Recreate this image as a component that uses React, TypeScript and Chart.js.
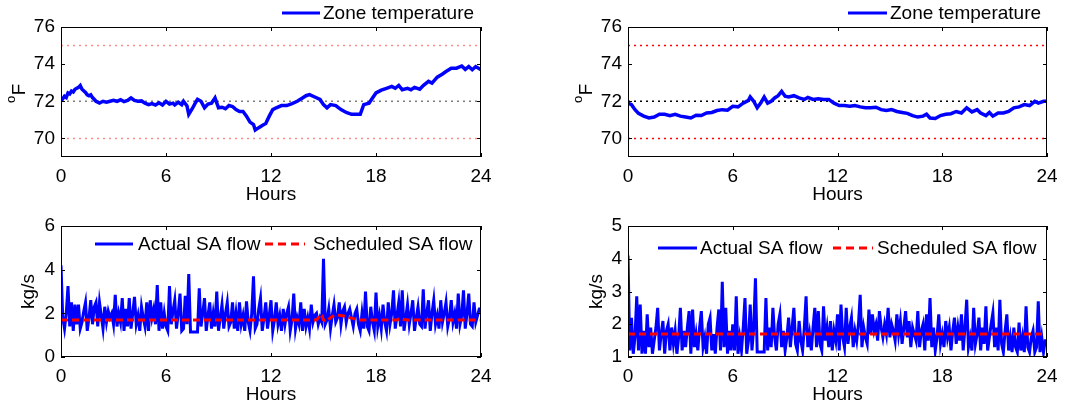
import { useEffect, useRef } from "react";
import { Chart, registerables } from "chart.js";

Chart.register(...registerables);

const FONT = '"Liberation Sans", Arial, Helvetica, sans-serif';
const FONT_SIZE = 19;
const BLUE = "#0000ff";
const RED = "#ff0000";

// Axis ticks
const hourTicks = [0, 6, 12, 18, 24];
const tempTicks = [70, 72, 74, 76];
const flowTicksLeft = [0, 2, 4, 6];
const flowTicksRight = [1, 2, 3, 4, 5];

// Comfort band and setpoint, °F
const comfortBounds = [70, 75];
const setpoint = 72;

// Zone temperature, [hour, °F]
const zoneTempLeft = [
  [0, 72.0], [0.2, 72.27], [0.3, 72.2], [0.4, 72.45], [0.5, 72.4], [0.6, 72.55], [0.7, 72.5], [0.8, 72.65],
  [1.0, 72.75], [1.1, 72.85], [1.2, 72.65], [1.4, 72.48], [1.5, 72.35], [1.6, 72.3], [1.7, 72.35], [1.8, 72.2],
  [2.0, 72.0], [2.2, 71.9], [2.4, 72.0], [2.6, 71.95], [2.8, 72.0], [3.0, 72.05], [3.2, 72.0], [3.4, 72.08],
  [3.6, 71.98], [3.8, 72.05], [4.0, 72.18], [4.2, 72.05], [4.4, 72.0], [4.6, 72.02], [4.8, 71.9], [5.0, 71.82],
  [5.2, 71.88], [5.4, 71.8], [5.6, 71.92], [5.8, 71.8], [6.0, 72.0], [6.2, 71.85], [6.4, 71.9], [6.5, 71.8],
  [6.7, 71.95], [6.9, 71.82], [7.0, 72.0], [7.2, 71.75], [7.3, 71.3], [7.5, 71.6], [7.7, 71.95], [7.8, 72.1],
  [8.0, 72.0], [8.2, 71.65], [8.4, 71.85], [8.6, 71.9], [8.8, 72.18], [9.0, 71.65], [9.2, 71.68], [9.4, 71.6],
  [9.6, 71.77], [9.8, 71.72], [10.0, 71.55], [10.2, 71.45], [10.4, 71.45], [10.6, 71.2], [10.8, 70.88],
  [11.0, 70.75], [11.1, 70.45], [11.3, 70.58], [11.5, 70.7], [11.7, 70.8], [11.9, 71.2], [12.1, 71.55],
  [12.3, 71.65], [12.6, 71.77], [12.9, 71.77], [13.2, 71.88], [13.5, 72.0], [13.8, 72.18], [14.0, 72.3],
  [14.2, 72.36], [14.5, 72.23], [14.8, 72.1], [15.0, 71.82], [15.2, 71.65], [15.4, 71.82], [15.7, 71.77],
  [16.0, 71.55], [16.3, 71.4], [16.6, 71.3], [16.9, 71.3], [17.1, 71.3], [17.3, 71.82], [17.6, 71.9],
  [17.8, 72.18], [18.0, 72.45], [18.3, 72.6], [18.6, 72.7], [18.9, 72.8], [19.1, 72.7], [19.3, 72.85],
  [19.5, 72.62], [19.8, 72.7], [20.0, 72.62], [20.2, 72.75], [20.5, 72.65], [20.7, 72.85], [21.0, 73.07],
  [21.2, 72.98], [21.5, 73.3], [21.8, 73.47], [22.0, 73.6], [22.3, 73.78], [22.6, 73.78], [22.9, 73.9],
  [23.1, 73.72], [23.3, 73.87], [23.5, 73.7], [23.7, 73.87], [24.0, 73.7],
];

const zoneTempRight = [
  [0, 71.9], [0.2, 71.82], [0.4, 71.55], [0.6, 71.35], [0.9, 71.2], [1.2, 71.1], [1.5, 71.15], [1.8, 71.3],
  [2.1, 71.3], [2.4, 71.23], [2.7, 71.3], [3.0, 71.2], [3.3, 71.15], [3.6, 71.1], [3.9, 71.25], [4.2, 71.23],
  [4.5, 71.37], [4.8, 71.4], [5.1, 71.5], [5.4, 71.55], [5.7, 71.52], [6.0, 71.73], [6.3, 71.7], [6.6, 71.9],
  [6.9, 72.05], [7.0, 72.23], [7.2, 72.0], [7.4, 71.65], [7.6, 71.9], [7.8, 72.23], [8.0, 71.9], [8.2, 72.0],
  [8.4, 72.18], [8.6, 72.3], [8.8, 72.53], [9.0, 72.27], [9.2, 72.23], [9.5, 72.3], [9.8, 72.18], [10.1, 72.1],
  [10.3, 72.21], [10.6, 72.1], [10.9, 72.14], [11.2, 72.1], [11.5, 72.1], [11.8, 71.9], [12.1, 71.77],
  [12.4, 71.77], [12.7, 71.73], [13.0, 71.77], [13.3, 71.7], [13.6, 71.65], [13.9, 71.65], [14.2, 71.68],
  [14.5, 71.55], [14.8, 71.5], [15.1, 71.55], [15.4, 71.45], [15.7, 71.4], [16.0, 71.35], [16.3, 71.23],
  [16.6, 71.15], [16.9, 71.2], [17.1, 71.3], [17.3, 71.1], [17.6, 71.07], [17.9, 71.23], [18.2, 71.3],
  [18.5, 71.33], [18.8, 71.45], [19.1, 71.37], [19.4, 71.65], [19.7, 71.43], [20.0, 71.55], [20.2, 71.37],
  [20.5, 71.23], [20.7, 71.4], [20.9, 71.2], [21.2, 71.37], [21.5, 71.37], [21.8, 71.45], [22.1, 71.65],
  [22.4, 71.7], [22.7, 71.82], [23.0, 71.77], [23.3, 72.0], [23.5, 71.9], [23.8, 72.0], [24.0, 72.0],
];

// Supply-air flow sampled every 0.1 h, kg/s (one row per hour)
const sampleStep = 0.1;

const actualFlowLeft = [
  4.2, 1.8, 1.3, 2.0, 3.25, 1.4, 2.5, 1.2, 2.4, 1.5,
  2.4, 1.3, 1.6, 2.1, 2.5, 1.2, 1.8, 2.6, 1.5, 2.3,
  2.5, 1.4, 2.5, 1.9, 1.3, 2.3, 1.6, 2.1, 1.8, 2.0,
  1.5, 2.85, 1.4, 2.0, 1.6, 2.7, 1.2, 2.2, 1.4, 2.7,
  1.3, 2.0, 2.75, 1.5, 1.9, 1.2, 2.3, 1.8, 1.4, 2.5,
  1.2, 2.6, 1.8, 2.2, 1.5, 3.3, 1.2, 2.5, 1.3, 2.0,
  1.4, 1.2, 3.25, 1.5, 2.1, 2.6, 1.3, 2.0, 2.9, 1.2,
  1.3, 2.8, 1.5, 3.8, 1.15, 1.15, 1.15, 1.15, 1.15, 3.15,
  1.4, 2.0, 2.7, 1.2, 1.9, 2.5, 1.3, 2.0, 1.4, 3.0,
  1.2, 1.8, 2.4, 1.3, 2.0, 2.5, 1.4, 1.6, 2.5, 1.3,
  2.0, 1.2, 2.5, 1.5, 1.9, 1.2, 2.55, 1.6, 1.2, 2.0,
  3.7, 1.3, 1.5, 2.2, 2.7, 1.2, 1.8, 2.5, 1.3, 1.9,
  2.6, 1.2, 1.7, 2.5, 1.5, 1.9, 1.2, 2.2, 1.5, 2.0,
  2.3, 1.2, 1.7, 2.9, 1.3, 1.8, 1.5, 2.5, 1.2, 2.2,
  1.4, 1.8, 1.3, 2.4, 1.6, 1.9, 2.0, 1.5, 1.8, 1.6,
  4.5, 1.5, 1.7, 2.2, 1.3, 1.9, 2.4, 1.6, 1.8, 2.5,
  1.5, 2.1, 2.3, 1.6, 2.0, 2.2, 1.8, 1.4, 2.0, 2.2,
  1.5, 1.2, 2.0, 1.3, 3.0, 1.4, 1.2, 2.3, 1.6, 1.2,
  2.95, 1.4, 1.9, 1.3, 2.4, 1.6, 1.2, 2.5, 1.5, 2.0,
  3.05, 1.3, 1.9, 2.5, 1.4, 3.05, 1.2, 1.8, 2.4, 1.5,
  2.0, 2.6, 1.2, 1.8, 2.3, 1.5, 1.4, 3.1, 1.3, 2.0,
  2.6, 1.2, 2.0, 2.6, 1.5, 1.9, 1.3, 2.6, 1.6, 2.0,
  2.5, 1.4, 1.8, 2.6, 1.6, 2.0, 1.3, 2.9, 1.5, 1.9,
  3.05, 1.3, 2.0, 2.9, 1.5, 1.4, 2.5, 1.6, 1.9, 2.2,
  2.2,
];

const actualFlowRight = [
  4.1, 1.2, 2.2, 1.1, 1.6, 2.85, 1.2, 2.6, 1.1, 1.8,
  1.1, 2.3, 1.3, 1.9, 1.1, 1.5, 1.9, 2.5, 1.2, 1.7,
  2.1, 1.1, 1.8, 2.0, 1.2, 1.9, 1.4, 1.8, 1.1, 1.6,
  2.5, 1.2, 1.8, 1.3, 1.9, 2.4, 1.1, 2.45, 1.3, 1.7,
  1.2, 1.9, 2.4, 1.3, 1.6, 1.1, 2.0, 2.2, 1.2, 1.7,
  1.1, 1.9, 2.45, 1.2, 3.3, 1.3, 2.5, 1.1, 1.8, 1.2,
  2.0, 1.2, 2.85, 1.1, 1.6, 1.2, 1.9, 2.8, 1.1, 1.5,
  2.6, 1.2, 1.9, 3.4, 1.15, 1.15, 1.15, 1.15, 1.15, 2.8,
  1.2, 1.9, 1.3, 2.5, 1.6, 1.2, 2.0, 2.3, 1.3, 1.8,
  1.2, 1.6, 2.2, 1.3, 1.9, 2.5, 1.4, 1.2, 2.1, 1.5,
  1.2, 1.9, 2.85, 1.3, 1.7, 1.2, 1.9, 2.5, 1.3, 2.4,
  1.4, 1.2, 2.55, 1.5, 1.9, 1.3, 2.1, 1.2, 1.8, 1.5,
  2.3, 1.2, 2.6, 1.6, 1.3, 2.5, 1.4, 1.9, 2.2, 1.3,
  1.8, 1.5, 2.0, 2.9, 1.3, 1.9, 1.6, 1.4, 2.45, 1.7,
  2.3, 1.8, 2.0, 1.5, 2.4, 1.9, 1.6, 2.0, 1.7, 2.5,
  1.6, 2.0, 1.8, 1.5, 2.3, 1.7, 2.1, 1.4, 1.9, 2.4,
  1.6, 2.1, 1.3, 1.9, 1.7, 1.5, 2.4, 1.3, 1.8, 2.0,
  1.2, 2.3, 1.5, 2.8, 1.3, 1.9, 1.2, 1.6, 2.3, 1.4,
  1.7, 1.3, 2.1, 1.6, 1.9, 1.2, 1.8, 2.2, 1.4, 1.9,
  1.5, 2.3, 1.2, 1.9, 2.75, 1.3, 1.6, 1.2, 2.5, 1.4,
  1.7, 2.2, 1.2, 1.9, 1.4, 2.55, 1.2, 1.6, 2.0, 2.35,
  1.3, 1.9, 1.2, 2.75, 1.4, 1.15, 1.8, 2.3, 1.2, 1.6,
  1.15, 1.9, 1.3, 1.15, 2.05, 1.2, 1.6, 1.15, 2.55, 1.3,
  1.15, 1.6, 1.8, 1.15, 1.3, 2.7, 1.15, 1.6, 1.15, 1.5,
  1.5,
];

// Scheduled supply-air flow breakpoints, [hour, kg/s]
const scheduledFlowLeft = [
  [0, 1.7], [14.6, 1.7], [14.7, 1.8], [14.8, 1.95], [14.9, 1.9], [15.0, 1.7], [15.1, 1.62], [15.2, 1.65],
  [15.4, 1.8], [15.6, 1.9], [15.8, 1.92], [16.0, 1.9], [16.3, 1.85], [16.6, 1.78], [17.0, 1.7],
  [19.2, 1.7], [19.4, 1.78], [19.6, 1.72], [19.8, 1.7], [24, 1.7],
];
const scheduledFlowRight = [[0, 1.7], [24, 1.7]];

type LegendItem = { label: string; color: string; dash: number[]; x1: number; x2: number; y: number; textX: number };

type PanelSpec = {
  left: number;
  top: number;
  width: number;
  height: number;
  area: { left: number; top: number; right: number; bottom: number };
  yMin: number;
  yMax: number;
  yTicks: number[];
  yTitle?: string;
  yTitlePad?: number;
  degreeLabel?: boolean;
  datasets: any[];
  legend: LegendItem[];
};

const pairs = (arr: number[][]) => arr.map(([x, y]) => ({ x, y }));
const sampled = (arr: number[]) => arr.map((y, i) => ({ x: Math.round(i * sampleStep * 10) / 10, y }));

const refLine = (value: number, color: string) => ({
  data: [{ x: 0, y: value }, { x: 24, y: value }],
  borderColor: color,
  borderWidth: 1.5,
  borderDash: [2, 4],
  pointRadius: 0,
  fill: false,
});

// Boxed axes with inward ticks, legend rows and the superscript °F label
const framePlugin = {
  id: "matlabFrame",
  afterDatasetsDraw(chart: any, _args: any, opts: any) {
    const { ctx, chartArea: a, scales } = chart;
    const xs = scales.x;
    const ys = scales.y;
    ctx.save();
    ctx.strokeStyle = "#000";
    ctx.lineWidth = 1;
    ctx.strokeRect(a.left + 0.5, a.top + 0.5, a.right - a.left - 1, a.bottom - a.top - 1);
    const tl = 4;
    ctx.beginPath();
    for (const t of xs.ticks) {
      const px = Math.round(xs.getPixelForValue(t.value)) + 0.5;
      ctx.moveTo(px, a.bottom);
      ctx.lineTo(px, a.bottom - tl);
      ctx.moveTo(px, a.top);
      ctx.lineTo(px, a.top + tl);
    }
    for (const t of ys.ticks) {
      const py = Math.round(ys.getPixelForValue(t.value)) + 0.5;
      ctx.moveTo(a.left, py);
      ctx.lineTo(a.left + tl, py);
      ctx.moveTo(a.right, py);
      ctx.lineTo(a.right - tl, py);
    }
    ctx.stroke();

    // Legend
    ctx.font = `${FONT_SIZE}px ${FONT}`;
    ctx.textBaseline = "middle";
    ctx.textAlign = "left";
    for (const item of (opts.legend || []) as LegendItem[]) {
      ctx.strokeStyle = item.color;
      ctx.lineWidth = 3;
      ctx.setLineDash(item.dash);
      ctx.beginPath();
      ctx.moveTo(item.x1, item.y);
      ctx.lineTo(item.x2, item.y);
      ctx.stroke();
      ctx.setLineDash([]);
      ctx.fillStyle = "#000";
      ctx.fillText(item.label, item.textX, item.y + 1);
    }

    // Rotated "oF" axis label with superscript o
    if (opts.degreeLabel) {
      const cy = (a.top + a.bottom) / 2;
      ctx.translate(a.left - 36, cy + 11);
      ctx.rotate(-Math.PI / 2);
      ctx.textBaseline = "alphabetic";
      ctx.fillStyle = "#000";
      ctx.font = `13px ${FONT}`;
      ctx.fillText("o", 0, -10);
      const w = ctx.measureText("o").width;
      ctx.font = `${FONT_SIZE}px ${FONT}`;
      ctx.fillText("F", w + 0.5, 0);
    }
    ctx.restore();
  },
};

function Panel({ spec }: { spec: PanelSpec }) {
  const ref = useRef<HTMLCanvasElement | null>(null);
  useEffect(() => {
    const canvas = ref.current;
    if (!canvas) return;
    const { area, width, height } = spec;
    const tickFont = { family: FONT, size: FONT_SIZE };
    const chart = new Chart(canvas, {
      type: "line",
      data: { datasets: spec.datasets },
      plugins: [framePlugin],
      options: {
        animation: false,
        responsive: false,
        devicePixelRatio: 1,
        parsing: false,
        normalized: true,
        elements: { line: { tension: 0 }, point: { radius: 0 } },
        layout: { padding: { left: 0, top: area.top, right: width - area.right, bottom: height - 206 } },
        plugins: {
          legend: { display: false },
          tooltip: { enabled: false },
          matlabFrame: { legend: spec.legend, degreeLabel: !!spec.degreeLabel },
        } as any,
        scales: {
          x: {
            type: "linear",
            min: 0,
            max: 24,
            afterBuildTicks: (s: any) => {
              s.ticks = hourTicks.map((v) => ({ value: v }));
            },
            afterFit: (s: any) => {
              s.height = 206 - area.bottom;
            },
            grid: { display: false, drawTicks: false },
            border: { display: false },
            ticks: { padding: 8, color: "#000", font: tickFont, maxRotation: 0, autoSkip: false },
            title: { display: true, text: "Hours", color: "#000", font: tickFont, padding: { top: 0, bottom: 0 } },
          },
          y: {
            type: "linear",
            min: spec.yMin,
            max: spec.yMax,
            afterBuildTicks: (s: any) => {
              s.ticks = spec.yTicks.map((v) => ({ value: v }));
            },
            afterFit: (s: any) => {
              s.width = area.left;
            },
            grid: { display: false, drawTicks: false },
            border: { display: false },
            ticks: { padding: 6, color: "#000", font: tickFont },
            title: {
              display: !!spec.yTitle,
              text: spec.yTitle || "",
              color: "#000",
              font: tickFont,
              padding: { top: spec.yTitlePad || 0, bottom: 0 },
            },
          },
        },
      } as any,
    });
    return () => chart.destroy();
  }, [spec]);
  return (
    <div style={{ position: "absolute", left: spec.left, top: spec.top, width: spec.width, height: spec.height }}>
      <canvas ref={ref} width={spec.width} height={spec.height} style={{ display: "block" }} />
    </div>
  );
}

const tempDatasets = (series: number[][], bandColor: string, setColor: string) => [
  { data: pairs(series), borderColor: BLUE, borderWidth: 3.5, pointRadius: 0, fill: false },
  refLine(comfortBounds[1], bandColor),
  refLine(setpoint, setColor),
  refLine(comfortBounds[0], bandColor),
];

const flowDatasets = (actual: number[], scheduled: number[][]) => [
  { data: pairs(scheduled), borderColor: RED, borderWidth: 3, borderDash: [7, 4], pointRadius: 0, fill: false },
  { data: sampled(actual), borderColor: BLUE, borderWidth: 3, pointRadius: 0, fill: false },
];

const panels: PanelSpec[] = [
  {
    left: 0, top: 0, width: 540, height: 210,
    area: { left: 61, top: 27, right: 481, bottom: 157 },
    yMin: 69, yMax: 76, yTicks: tempTicks, degreeLabel: true,
    datasets: tempDatasets(zoneTempLeft, "rgba(255,110,110,0.8)", "rgba(110,110,110,0.9)"),
    legend: [{ label: "Zone temperature", color: BLUE, dash: [], x1: 282, x2: 320, y: 13, textX: 323 }],
  },
  {
    left: 540, top: 0, width: 541, height: 210,
    area: { left: 88, top: 27, right: 507, bottom: 157 },
    yMin: 69, yMax: 76, yTicks: tempTicks, degreeLabel: true,
    datasets: tempDatasets(zoneTempRight, RED, "#000"),
    legend: [{ label: "Zone temperature", color: BLUE, dash: [], x1: 308, x2: 347, y: 13, textX: 350 }],
  },
  {
    left: 0, top: 200, width: 540, height: 206,
    area: { left: 61, top: 26, right: 481, bottom: 157 },
    yMin: 0, yMax: 6, yTicks: flowTicksLeft, yTitle: "kg/s", yTitlePad: 17.6,
    datasets: flowDatasets(actualFlowLeft, scheduledFlowLeft),
    legend: [
      { label: "Actual SA flow", color: BLUE, dash: [], x1: 95, x2: 133, y: 44, textX: 138 },
      { label: "Scheduled SA flow", color: RED, dash: [8, 5], x1: 265, x2: 305, y: 44, textX: 313 },
    ],
  },
  {
    left: 540, top: 200, width: 541, height: 206,
    area: { left: 88, top: 26, right: 507, bottom: 157 },
    yMin: 1, yMax: 5, yTicks: flowTicksRight, yTitle: "kg/s", yTitlePad: 45.3,
    datasets: flowDatasets(actualFlowRight, scheduledFlowRight),
    legend: [
      { label: "Actual SA flow", color: BLUE, dash: [], x1: 118, x2: 157, y: 48, textX: 160 },
      { label: "Scheduled SA flow", color: RED, dash: [8, 5], x1: 293, x2: 333, y: 48, textX: 337 },
    ],
  },
];

export default function App() {
  return (
    <div style={{ position: "absolute", left: 0, top: 0, width: 1081, height: 406, background: "#fff", overflow: "hidden" }}>
      {panels.map((p, i) => (
        <Panel key={i} spec={p} />
      ))}
    </div>
  );
}
